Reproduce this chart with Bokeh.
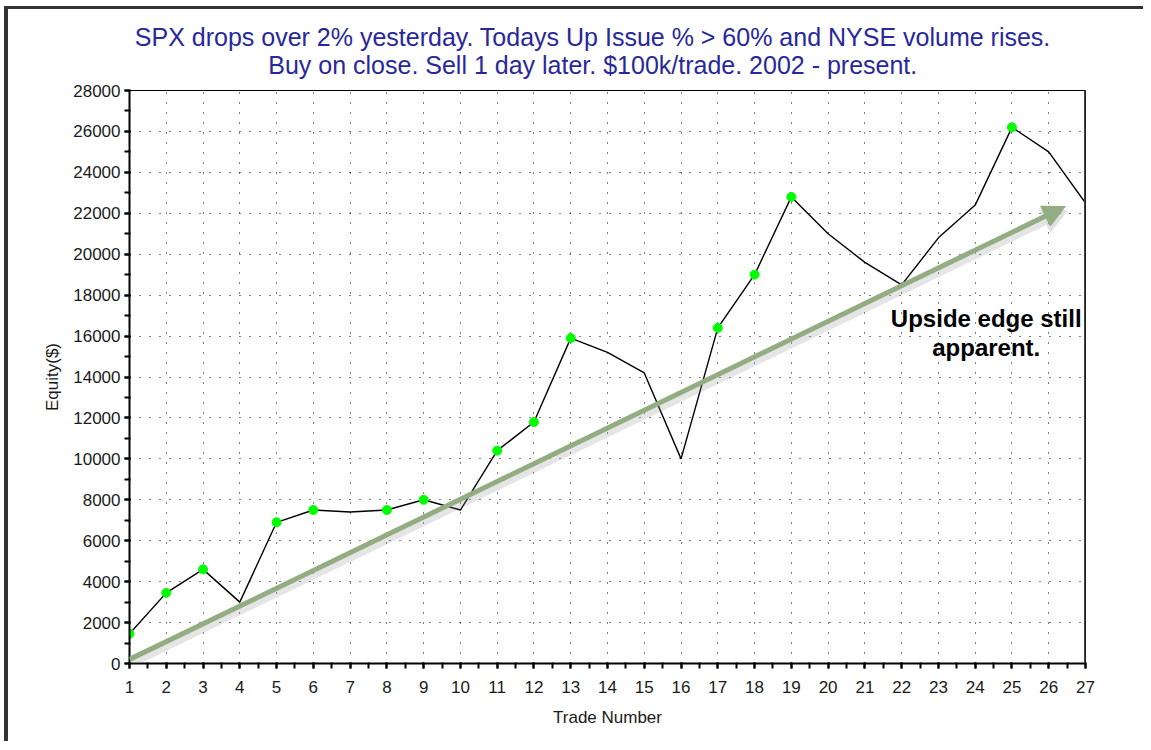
from bokeh.plotting import figure
from bokeh.embed import file_html
from bokeh.resources import INLINE
from bokeh.core.properties import value
from bokeh.layouts import column
from bokeh.models import (Span, Arrow, NormalHead, SingleIntervalTicker,
                          Range1d, ColumnDataSource)

# ---- data ----
title_lines = ["SPX drops over 2% yesterday. Todays Up Issue % > 60% and NYSE volume rises.",
               "Buy on close. Sell 1 day later. $100k/trade. 2002 - present."]
x_label = "Trade Number"
y_label = "Equity($)"

trade = list(range(1, 28))
equity = [1450, 3450, 4600, 3000, 6900, 7500, 7400, 7500, 8000, 7500,
          10400, 11800, 15900, 15200, 14200, 10000, 16400, 19000, 22800, 21000,
          19600, 18500, 20800, 22400, 26200, 25000, 22500]
green_trades = [1, 2, 3, 5, 6, 8, 9, 11, 12, 13, 17, 18, 19, 25]

arrow_x = [1.0, 26.45]
arrow_y = [200, 22330]

note_lines = ["Upside edge still", "apparent."]
note_x = [24.3, 24.3]
note_y = [16860, 15440]

FONT = "Liberation Sans"
TOTAL_W = 1135
HEAD_H = 70

# ---- title strip (a figure of its own, pixel-like coordinates, y downwards) ----
head = figure(width=TOTAL_W, height=HEAD_H, x_range=Range1d(0, TOTAL_W),
              y_range=Range1d(HEAD_H, 0), output_backend="svg", toolbar_location=None,
              x_axis_location=None, y_axis_location=None, title_location=None,
              min_border=0, min_border_left=0, min_border_right=0,
              min_border_top=0, min_border_bottom=0, outline_line_color=None,
              background_fill_color="white", border_fill_color="white")
head.grid.visible = False
head.text(x=[550, 550], y=[27.3, 55], text=title_lines, text_font=value(FONT),
          text_font_size="25px", text_color="#28289c", text_align="center",
          text_baseline="alphabetic")

# ---- main chart ----
p = figure(frame_width=956, frame_height=573,
           x_range=Range1d(1, 27), y_range=Range1d(0, 28000),
           output_backend="svg", toolbar_location=None,
           min_border_left=121, min_border_right=58,
           min_border_top=11, min_border_bottom=78,
           background_fill_color="white", border_fill_color="white")

p.outline_line_color = "black"
p.outline_line_width = 1

p.xaxis.ticker = SingleIntervalTicker(interval=1, num_minor_ticks=2)
p.yaxis.ticker = SingleIntervalTicker(interval=2000, num_minor_ticks=2)
for ax in (p.xaxis, p.yaxis):
    ax.axis_line_color = "black"
    ax.axis_line_width = 2
    ax.major_tick_line_color = "black"
    ax.minor_tick_line_color = "black"
    ax.major_tick_line_width = 2
    ax.minor_tick_line_width = 2
    ax.major_tick_in = 1
    ax.major_tick_out = 5
    ax.minor_tick_in = 1
    ax.minor_tick_out = 5
    ax.major_label_text_font = FONT
    ax.major_label_text_font_size = "17px"
    ax.major_label_text_color = "#1a1a1a"
    ax.axis_label_text_font = FONT
    ax.axis_label_text_font_size = "17px"
    ax.axis_label_text_font_style = "normal"
    ax.axis_label_text_color = "#1a1a1a"
p.xaxis.axis_label = x_label
p.yaxis.axis_label = y_label
p.xaxis.major_label_standoff = 12
p.yaxis.major_label_standoff = 4
p.xaxis.axis_label_standoff = 12
p.yaxis.axis_label_standoff = 8

for g in (p.xgrid, p.ygrid):
    g.grid_line_color = "black"
    g.grid_line_width = 1
    g.grid_line_dash = "1 9"

# right border of plot area
p.add_layout(Span(location=27, dimension="height", line_color="#444444", line_width=3))

# arrow shadow + arrow
shadow = Arrow(x_start=arrow_x[0] + 0.08, y_start=arrow_y[0] - 170,
               x_end=arrow_x[1] + 0.08, y_end=arrow_y[1] - 170,
               line_color="#888888", line_alpha=0.22, line_width=8,
               end=NormalHead(size=26, fill_color="#888888", fill_alpha=0.25, line_alpha=0))
p.add_layout(shadow)
arrow = Arrow(x_start=arrow_x[0], y_start=arrow_y[0], x_end=arrow_x[1], y_end=arrow_y[1],
              line_color="#93ad82", line_width=5,
              end=NormalHead(size=22, fill_color="#93ad82", line_color="#93ad82", line_width=1))
p.add_layout(arrow)

# equity curve
src = ColumnDataSource(dict(x=trade, y=equity))
p.line("x", "y", source=src, line_color="black", line_width=1.4)
gsrc = ColumnDataSource(dict(x=green_trades, y=[equity[t - 1] for t in green_trades]))
p.scatter("x", "y", source=gsrc, size=9, fill_color="#00ff00", line_color="#00ff00")

# note
p.text(x=note_x, y=note_y, text=note_lines, text_font=value(FONT), text_font_style="bold",
       text_font_size="24px", text_align="center", text_baseline="middle", text_color="black")

layout = column(head, p, spacing=0,
                styles={"border-top": "3px solid #333333", "border-left": "4px solid #333333",
                        "margin-top": "6px", "margin-left": "4px"})

open("out.html", "w").write(file_html(layout, INLINE))
